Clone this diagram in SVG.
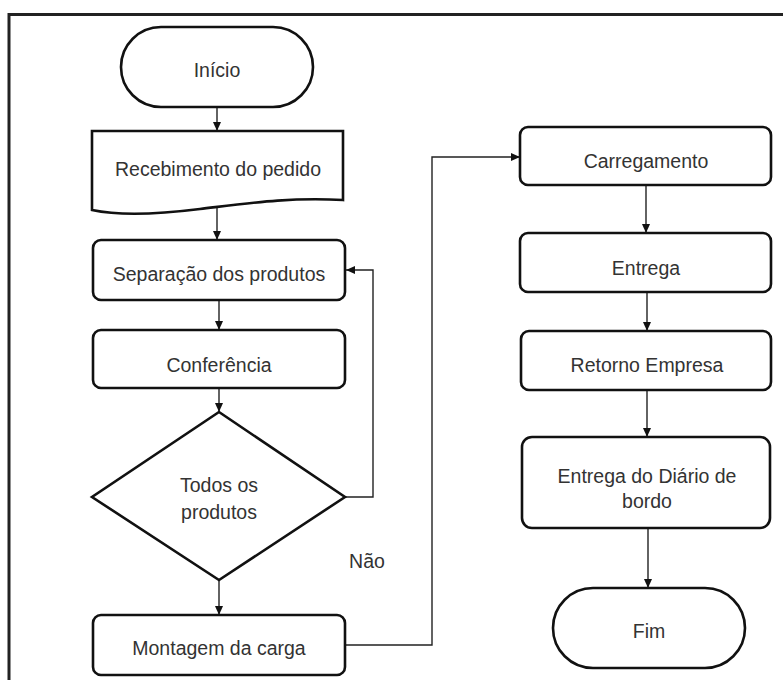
<svg xmlns="http://www.w3.org/2000/svg" width="783" height="680" viewBox="0 0 783 680">
<defs>
<style>
.box{fill:#fff;stroke:#111;stroke-width:2.6}
.t{font-family:"Liberation Sans",Arial,sans-serif;font-size:19.5px;fill:#333;text-anchor:middle}
.c{fill:none;stroke:#222;stroke-width:1.4}
.frame{stroke:#222;stroke-width:3;fill:none}
</style>
<marker id="ah" markerWidth="9" markerHeight="8" refX="9" refY="4" orient="auto" markerUnits="userSpaceOnUse">
<path d="M0,0 L9,4 L0,8 Z" fill="#111"/>
</marker>
</defs>
<rect width="783" height="680" fill="#fff"/>
<g id="frame">
<path class="frame" d="M9,680 V14.5 H783"/>
</g>
<g id="connectors">
<path class="c" d="M217,107 V131" marker-end="url(#ah)"/>
<path class="c" d="M217,206 V240" marker-end="url(#ah)"/>
<path class="c" d="M219,300 V330" marker-end="url(#ah)"/>
<path class="c" d="M219,388 V412" marker-end="url(#ah)"/>
<path class="c" d="M345,497 H373 V270 H346" marker-end="url(#ah)"/>
<path class="c" d="M219,580 V615" marker-end="url(#ah)"/>
<path class="c" d="M345,645 H432 V157 H520" marker-end="url(#ah)"/>
<path class="c" d="M646,185 V233" marker-end="url(#ah)"/>
<path class="c" d="M647,292 V331" marker-end="url(#ah)"/>
<path class="c" d="M647,390 V437" marker-end="url(#ah)"/>
<path class="c" d="M648,528 V588" marker-end="url(#ah)"/>
</g>
<g id="inicio">
<rect class="box" x="121" y="27" width="192" height="80" rx="40"/>
<text class="t" x="217" y="77">Início</text>
</g>
<g id="recebimento">
<path class="box" d="M92,131 H343 V200 C290,197 250,203 200,209 C160,214 120,216 92,210 Z"/>
<text class="t" x="218" y="176">Recebimento do pedido</text>
</g>
<g id="separacao">
<rect class="box" x="93" y="240" width="252" height="60" rx="8"/>
<text class="t" x="219" y="281">Separação dos produtos</text>
</g>
<g id="conferencia">
<rect class="box" x="93" y="330" width="252" height="58" rx="8"/>
<text class="t" x="219" y="372">Conferência</text>
</g>
<g id="decisao">
<polygon class="box" points="219,412 345,497 219,580 92,497"/>
<text class="t" x="219" y="492">Todos os</text>
<text class="t" x="219" y="519">produtos</text>
</g>
<g id="nao">
<text class="t" x="367" y="568">Não</text>
</g>
<g id="montagem">
<rect class="box" x="93" y="615" width="252" height="60" rx="8"/>
<text class="t" x="219" y="655">Montagem da carga</text>
</g>
<g id="carregamento">
<rect class="box" x="520" y="127" width="251" height="58" rx="8"/>
<text class="t" x="646" y="168">Carregamento</text>
</g>
<g id="entrega">
<rect class="box" x="520" y="233" width="251" height="59" rx="8"/>
<text class="t" x="646" y="275">Entrega</text>
</g>
<g id="retorno">
<rect class="box" x="521" y="331" width="250" height="59" rx="8"/>
<text class="t" x="647" y="372">Retorno Empresa</text>
</g>
<g id="diario">
<rect class="box" x="522" y="437" width="248" height="91" rx="10"/>
<text class="t" x="647" y="483">Entrega do Diário de</text>
<text class="t" x="647" y="508">bordo</text>
</g>
<g id="fim">
<rect class="box" x="553" y="588" width="192" height="80" rx="40"/>
<text class="t" x="649" y="638">Fim</text>
</g>
</svg>
